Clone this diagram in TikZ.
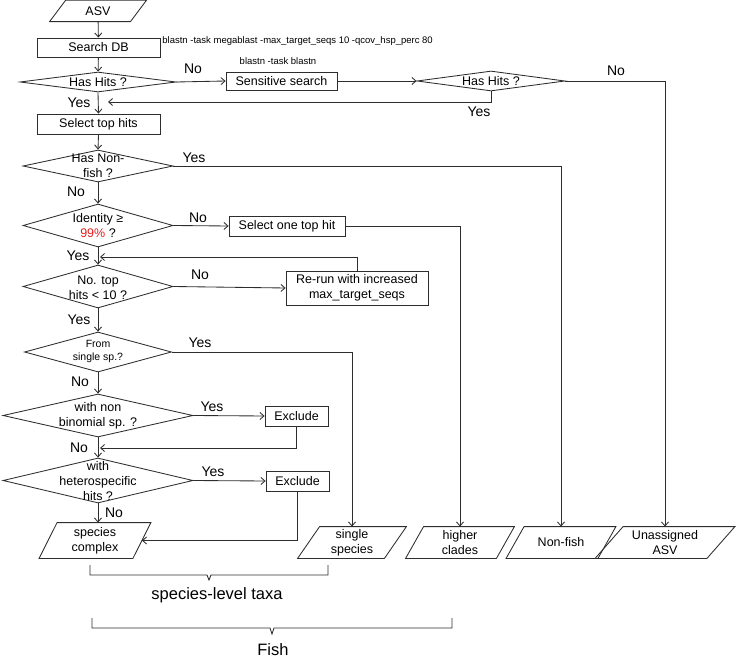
\documentclass[tikz,border=0pt]{standalone}
\usepackage{fontspec}
\setmainfont{Liberation Sans}
\usetikzlibrary{shapes.geometric,arrows.meta,calc}
\definecolor{linecol}{RGB}{45,45,45}
\definecolor{redtxt}{RGB}{228,30,30}
\newcommand\fsz[2]{\fontsize{#1pt}{#2pt}\selectfont}
\newcommand\parag[6]{%
  \node[pbox, minimum width=#3pt, minimum height=#4pt] (#1) at #2 {#6};
  \draw[linecol] ([xshift=-#5pt/2]#1.south west) -- ([xshift=-#5pt/2]#1.south east)
     -- ([xshift=#5pt/2]#1.north east) -- ([xshift=#5pt/2]#1.north west) -- cycle;}
\begin{document}
\begin{tikzpicture}[x=1pt,y=-1pt,line width=0.85pt,
  box/.style={rectangle, draw=linecol, inner sep=0pt, font=\fsz{12.5}{15}, align=center},
  dia/.style={diamond, draw=linecol, inner sep=0pt},
  dtxt/.style={inner sep=0pt, font=\fsz{12.5}{15}, align=center},
  pbox/.style={inner sep=0pt, font=\fsz{12.5}{15}, align=center},
  lab/.style={inner sep=0pt, font=\fsz{14}{16}},
  note/.style={inner sep=0pt, font=\fsz{9.5}{11}},
  ar/.style={draw=linecol, -{Straight Barb[length=4pt,width=7pt]}},
  ln/.style={draw=linecol}]
\useasboundingbox (0,0) rectangle (739,658);

% start
\parag{asv}{(98,11)}{80}{20.5}{16}{ASV}

% rectangles
\node[box, minimum width=123pt, minimum height=19pt] (sdb) at (98.5,47.5) {Search DB};
\node[note, anchor=west] (cmd1) at (162,41) {blastn -task megablast -max\_target\_seqs 10 -qcov\_hsp\_perc 80};
\node[box, minimum width=111pt, minimum height=18pt] (ss) at (281.5,81) {Sensitive search};
\node[note] (cmd2) at (278,61) {blastn -task blastn};
\node[box, minimum width=123pt, minimum height=20pt] (sel) at (98.5,124) {Select top hits};
\node[box, minimum width=116pt, minimum height=20pt] (soth) at (287,226) {Select one top hit};
\node[box, minimum width=142pt, minimum height=34pt] (rerun) at (357,288) {Re-run with increased\\max\_target\_seqs};
\node[box, minimum width=63pt, minimum height=20pt] (ex1) at (296.5,416) {Exclude};
\node[box, minimum width=63pt, minimum height=20pt] (ex2) at (297.5,481) {Exclude};

% diamonds
\node[dia, minimum width=156pt, minimum height=20pt] (hh1) at (98,82) {};
\node[dtxt] (hh1t) at (hh1) {Has Hits ?};
\node[dia, minimum width=148pt, minimum height=20pt] (hh2) at (491,81) {};
\node[dtxt] (hh2t) at (hh2) {Has Hits ?};
\node[dia, minimum width=150pt, minimum height=32pt] (nf) at (98,166) {};
\node[dtxt] (nft) at (98,165.5) {Has Non-\\fish ?};
\node[dia, minimum width=150pt, minimum height=43pt] (id) at (98,225.5) {};
\node[dtxt] (idt) at (98,225.5) {Identity ≥\\\textcolor{redtxt}{99\%} ?};
\node[dia, minimum width=150pt, minimum height=43pt] (nth) at (98,286.5) {};
\node[dtxt] (ntht) at (98,287.5) {No. top\\hits < 10 ?};
\node[dia, minimum width=147pt, minimum height=40pt] (fs) at (98,352) {};
\node[dtxt, font=\fsz{10.5}{13}] (fst) at (98,351.5) {From\\single sp.?};
\node[dia, minimum width=190pt, minimum height=43pt] (wnb) at (98,415.5) {};
\node[dtxt] (wnbt) at (98,416) {with non\\binomial sp. ?};
\node[dia, minimum width=190pt, minimum height=45pt] (wh) at (98,480.5) {};
\node[dtxt] (wht) at (98,481.5) {with\\heterospecific\\hits ?};

% outputs
\parag{sc}{(95,540.5)}{93}{35}{18}{species\\complex}
\parag{sgl}{(352,542.5)}{86}{31}{22}{single\\species}
\parag{hc}{(460,542.5)}{90}{31}{18}{higher\\clades}
\parag{nfo}{(561,542.5)}{91}{31}{18}{Non-fish}
\parag{ua}{(665,542.5)}{111}{31}{28}{Unassigned\\ASV}

% join points
\coordinate (j1) at (108,102);
\coordinate (j2) at (100,257);
\coordinate (j3) at (100,448);

% connectors
\draw[ar] (asv) -- (sdb);
\draw[ar] (sdb) -- (hh1);
\draw[ar] (hh1.east) -- (ss.west);
\draw[ar] (ss.east) -- (hh2.west);
\draw[ar] (hh2.east) -| (ua.north);
\draw[ar] (hh2.south) |- (j1);
\draw[ar] (hh1.south) -- (sel.north);
\draw[ar] (sel.south) -- (nf.north);
\draw[ar] (nf.east) -| (nfo.north);
\draw[ar] (nf.south) -- (id.north);
\draw[ar] (id.east) -- (soth.west);
\draw[ar] (soth.east) -| (hc.north);
\draw[ar] (id.south) -- (nth.north);
\draw[ar] (nth.east) -- (rerun.west);
\draw[ar] (rerun.north) |- (j2);
\draw[ar] (nth.south) -- (fs.north);
\draw[ar] (fs.east) -| (sgl.north);
\draw[ar] (fs.south) -- (wnb.north);
\draw[ar] (wnb.east) -- (ex1.west);
\draw[ar] (ex1.south) |- (j3);
\draw[ar] (wnb.south) -- (wh.north);
\draw[ar] (wh.east) -- (ex2.west);
\draw[ar] (ex2.south) |- (sc.east);
\draw[ar] (wh.south) -- (wh.south |- sc.north);

% yes/no labels
\node[lab] (l1) at (193,69) {No};
\node[lab] (l2) at (79,103) {Yes};
\node[lab] (l3) at (616,71) {No};
\node[lab] (l4) at (479,112) {Yes};
\node[lab] (l5) at (194,158) {Yes};
\node[lab] (l6) at (76,192) {No};
\node[lab] (l7) at (198,218) {No};
\node[lab] (l8) at (78,256) {Yes};
\node[lab] (l9) at (200,275) {No};
\node[lab] (l10) at (79,320) {Yes};
\node[lab] (l11) at (200,343) {Yes};
\node[lab] (l12) at (80,382) {No};
\node[lab] (l13) at (212,407) {Yes};
\node[lab] (l14) at (79,448) {No};
\node[lab] (l15) at (213,472) {Yes};
\node[lab] (l16) at (114,513) {No};

% braces
\draw[ln] (90,565) -- (90,575) -- (207,575) -- (209,580) -- (211,575) -- (328,575) -- (328,565);
\node[inner sep=0pt, font=\fsz{16.5}{19}] (slt) at (217,595) {species-level taxa};
\draw[ln] (92,618) -- (92,628) -- (270,628) -- (272,634) -- (274,628) -- (452,628) -- (452,618);
\node[inner sep=0pt, font=\fsz{16.5}{19}] (fish) at (273,650) {Fish};
\end{tikzpicture}
\end{document}
